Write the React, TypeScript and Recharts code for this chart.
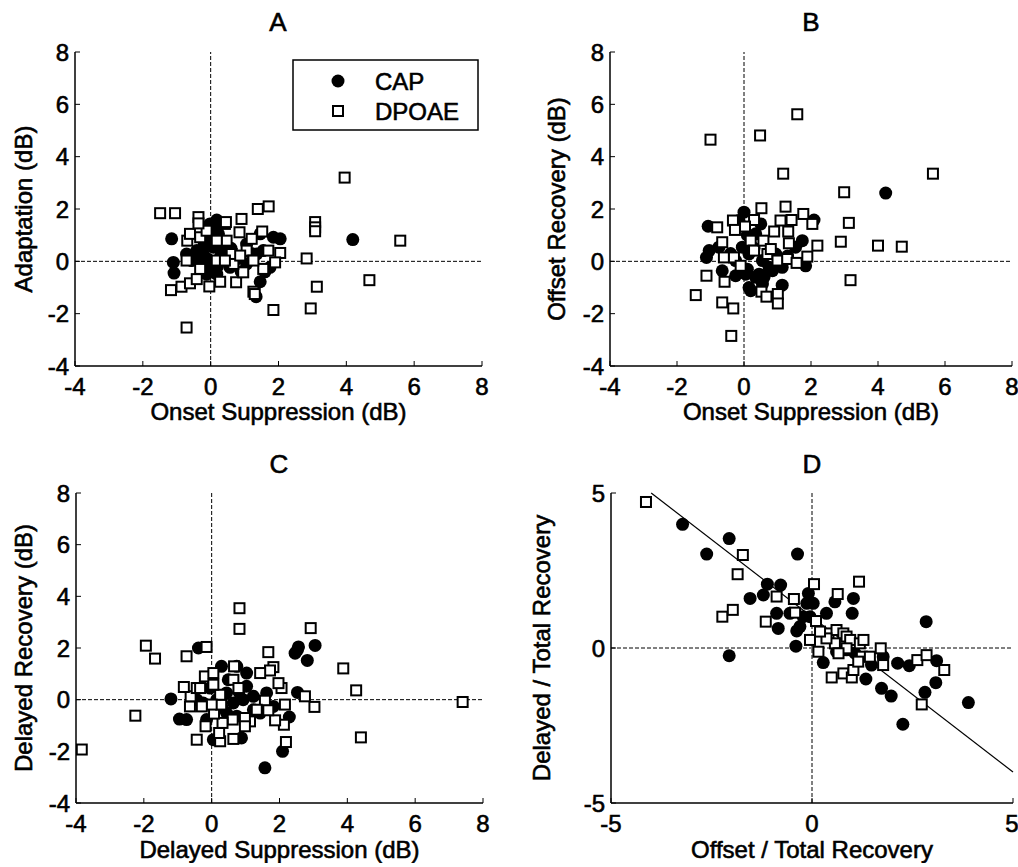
import { ScatterChart, Scatter, XAxis, YAxis, ReferenceLine } from 'recharts';

const FONT = '"Liberation Sans", Arial, Helvetica, sans-serif';

// panel A: onset suppression vs adaptation
const capA: [number, number][] = [
  [4.19, 0.83], [-1.15, 0.86], [-1.1, -0.04], [-1.08, -0.45], [-0.71, 0.28], [0.18, 1.58], [-0.02, 1.43],
  [2.05, 0.86], [1.46, -0.78], [1.34, -1.35], [1.75, -0.23], [1.85, 0.92], [-0.22, 0.28], [-0.02, -0.1],
  [0.08, 0.54], [0.23, 1.05], [0.37, 0.41], [-0.31, 0.03], [-0.12, -0.49], [0.18, -0.49], [0.57, -0.23],
  [0.77, 0.09], [1.06, -0.1], [1.36, 0.28], [1.55, 0.41], [1.46, 1.05], [-0.56, 0.03], [-0.41, 0.41],
  [0.47, 0.03], [1.06, 0.66], [0.03, 0.92], [0.1, 1.3], [0.3, 0.2], [-0.2, 0.6], [0.6, 0.5], [1.2, 0.3],
  [0.9, -0.4], [0.0, -0.3], [1.6, -0.4], [0.2, -0.2], [0.4, 0.7], [-0.1, 0.1]
];
const dpoaeA: [number, number][] = [
  [3.95, 3.2], [-1.49, 1.84], [-1.05, 1.84], [-0.36, 1.69], [0.91, 1.62], [1.39, 2.0], [1.71, 2.1],
  [3.08, 1.5], [3.08, 1.3], [3.08, 1.15], [5.59, 0.79], [2.83, 0.11], [4.68, -0.72], [3.13, -0.97],
  [2.95, -1.8], [1.85, -1.86], [-0.71, -2.53], [-1.17, -1.1], [-0.86, -0.97], [-0.61, -0.84], [-0.41, -0.68],
  [-0.04, -0.96], [0.28, -0.78], [0.75, -0.8], [1.26, -1.16], [1.3, -1.25], [-0.71, 0.03], [-0.69, 0.79],
  [-0.61, 1.05], [-0.31, 0.92], [-0.12, 1.17], [0.42, 1.43], [0.47, 0.79], [0.18, 0.79], [0.85, 1.11],
  [1.21, 0.86], [1.52, 1.14], [1.7, 0.41], [2.05, 0.32], [1.9, -0.04], [1.55, -0.29], [0.96, -0.42],
  [1.06, 0.41], [0.62, 0.28], [0.18, 0.03], [0.67, -0.1], [-0.31, -0.29], [0.87, 0.22], [1.26, 0.03],
  [0.42, 0.03], [-0.36, 1.45], [0.45, 1.5]
];

// panel B: onset suppression vs offset recovery
const capB: [number, number][] = [
  [4.23, 2.61], [-1.07, 1.34], [0.0, 1.88], [2.09, 1.58], [-1.12, 0.15], [-1.04, 0.41], [-0.65, -0.36],
  [1.14, -0.91], [0.15, -1.0], [0.2, -1.12], [0.55, -0.87], [-0.25, -0.55], [0.05, -0.49], [0.45, -0.49],
  [0.85, -0.36], [0.15, 0.28], [0.35, 1.05], [0.5, 1.43], [1.74, 0.79], [1.84, -0.17], [1.54, 0.54],
  [0.55, 0.03], [-0.05, 0.54], [-0.75, 0.54], [-0.25, 0.03], [0.95, 0.28], [1.14, -0.23], [0.35, -0.61],
  [-0.15, 1.56], [0.75, -0.23], [0.1, 1.0], [0.3, 0.5], [-0.4, 0.3], [1.3, 0.2], [0.1, -0.3], [0.6, -0.6]
];
const dpoaeB: [number, number][] = [
  [-1.0, 4.65], [0.48, 4.81], [1.59, 5.62], [1.17, 3.35], [5.64, 3.35], [2.99, 2.64], [3.13, 1.47],
  [2.89, 0.75], [4.0, 0.6], [4.71, 0.56], [3.18, -0.72], [2.19, 0.6], [1.77, 1.81], [2.04, 1.43],
  [1.42, 1.58], [1.24, 2.09], [0.52, 2.03], [1.09, 1.56], [1.32, 1.14], [0.3, 1.58], [-0.33, 1.56],
  [-0.27, 1.2], [-0.8, 1.3], [0.03, 1.33], [0.9, 1.14], [-0.65, 0.73], [-0.6, 0.15], [-0.3, 0.15],
  [0.2, 0.79], [0.3, 0.41], [0.58, 0.79], [0.7, 0.28], [1.0, 0.03], [1.29, 0.09], [1.57, -0.06],
  [1.89, 0.18], [-0.1, -0.17], [-1.12, -0.55], [-0.58, -0.78], [-1.44, -1.29], [-0.65, -1.57],
  [-0.32, -1.8], [-0.38, -2.85], [0.52, -1.16], [0.67, -1.35], [1.01, -1.25], [1.01, -1.61],
  [1.34, 0.69], [0.8, 0.47]
];

// panel C: delayed suppression vs delayed recovery
const capC: [number, number][] = [
  [1.57, -2.64], [2.09, -2.0], [2.53, 1.93], [2.56, 2.04], [2.46, 1.8], [3.05, 2.1], [2.82, 1.52],
  [2.53, 0.28], [2.29, -0.67], [-0.39, 2.0], [-1.2, 0.03], [-0.95, -0.75], [-0.74, -0.77], [0.05, -1.55],
  [0.88, -1.48], [0.29, 1.29], [0.74, 1.29], [0.44, 0.26], [0.64, -0.13], [0.93, 0.0], [1.23, 0.13],
  [1.03, 0.52], [0.44, -0.52], [0.15, 0.0], [-0.25, -0.13], [-0.15, -0.77], [1.23, -0.39], [1.43, -0.52],
  [0.74, -0.64], [1.03, 1.03], [1.62, 0.26], [1.82, -0.26], [-0.44, 0.0], [0.49, 0.77], [-0.05, 0.45],
  [0.3, -0.3], [0.8, 0.3]
];
const dpoaeC: [number, number][] = [
  [-3.83, -1.93], [-2.25, -0.62], [-1.94, 2.09], [-1.67, 1.59], [-0.74, 1.68], [-0.15, 2.04], [0.82, 3.54],
  [0.82, 2.74], [2.92, 2.77], [1.67, 1.84], [1.82, 1.26], [1.72, 1.13], [3.88, 1.21], [4.26, 0.36],
  [7.4, -0.09], [4.4, -1.46], [3.03, -0.28], [2.75, 0.13], [2.16, -0.19], [2.19, -1.64], [2.13, -0.97],
  [1.87, -0.8], [2.06, 0.45], [1.97, 0.64], [1.43, 1.03], [1.57, -0.04], [1.33, -0.39], [1.67, -0.41],
  [1.13, -0.84], [0.98, -0.71], [0.98, -1.03], [0.66, 1.29], [0.64, 0.77], [0.79, 0.45], [0.62, -0.77],
  [0.64, -1.52], [0.25, -1.61], [0.22, -1.29], [0.32, -0.9], [0.07, -0.54], [0.28, -0.19], [0.25, 0.19],
  [0.0, -0.19], [-0.18, -1.03], [-0.44, -1.55], [-0.29, -0.26], [-0.64, -0.26], [-0.62, 0.13],
  [-0.82, 0.49], [-0.44, 0.45], [-0.2, 0.9], [0.05, 0.58], [0.05, 1.03], [-0.34, 0.45]
];

// panel D: offset / total recovery vs delayed / total recovery
const capD: [number, number][] = [
  [-3.22, 3.99], [-2.62, 3.03], [-2.06, 3.53], [-0.36, 3.03], [-1.11, 2.06], [-0.78, 2.03], [-1.54, 1.6],
  [-1.21, 1.71], [-0.88, 1.12], [-0.84, 0.63], [-0.38, 0.55], [-0.4, 0.06], [-2.06, -0.25], [-0.09, 1.76],
  [-0.13, 1.44], [0.03, 1.44], [-0.22, 1.01], [-0.05, 1.01], [0.36, 1.12], [0.57, 1.49], [1.03, 1.6],
  [1.0, 1.12], [2.84, 0.85], [0.28, -0.47], [0.61, -0.12], [1.34, -1.0], [1.73, -1.3], [1.97, -1.55],
  [2.26, -2.46], [2.81, -1.43], [3.08, -1.12], [3.1, -0.41], [3.89, -1.76], [2.13, -0.49], [2.42, -0.57],
  [1.48, -0.55], [1.77, -0.28], [1.07, -0.17], [0.86, -0.06], [-0.55, 1.12], [-0.3, 0.69]
];
const dpoaeD: [number, number][] = [
  [-4.13, 4.71], [-1.72, 3.0], [-1.85, 2.38], [-2.23, 1.01], [-1.97, 1.23], [-1.15, 0.85], [-0.88, 1.66],
  [-0.45, 1.58], [0.05, 2.06], [1.17, 2.14], [0.64, 1.74], [-0.42, 1.14], [0.1, 0.87], [-0.05, 0.26],
  [0.16, -0.12], [0.49, -0.95], [0.78, -0.82], [0.99, -0.95], [1.03, -0.71], [0.41, 0.47], [0.61, 0.58],
  [0.78, 0.47], [0.86, 0.37], [0.57, 0.15], [0.95, 0.26], [1.19, 0.15], [1.28, 0.26], [1.24, -0.28],
  [1.44, -0.28], [1.71, -0.01], [1.77, -0.55], [1.15, -0.44], [2.62, -0.39], [2.85, -0.23], [3.29, -0.71],
  [2.73, -1.82], [0.36, 0.31], [0.86, -0.01], [0.2, 0.53], [0.66, -0.17]
];

// regression line end points
const fitD = [{ x: -4, y: 5 }, { x: 5, y: -4 }];

const ticksDb = [-4, -2, 0, 2, 4, 6, 8];
const ticksRatio = [-5, 0, 5];

const toPts = (arr: [number, number][]) => arr.map(([x, y]) => ({ x, y }));

const Dot = (p: any) => <circle cx={p.cx} cy={p.cy} r={6.5} fill="#000" />;
const Box = (p: any) => (
  <rect x={p.cx - 5} y={p.cy - 5} width={10} height={10} fill="#fff" stroke="#000" strokeWidth={2} />
);

type PanelProps = {
  left: number;
  top: number;
  width: number;
  plot: { l: number; t: number; r: number; b: number };
  domain: [number, number];
  ticks: number[];
  cap: [number, number][];
  dpoae: [number, number][];
  xLabel: string;
  yLabel: string;
  yLabelOffset: number;
  xLabelOffset: number;
  fit?: { x: number; y: number }[];
};

// scanned print looks heavy, so thicken glyphs a little with a stroke
const textStyle = { fill: '#000', stroke: '#000', strokeWidth: 0.6, fontSize: 24, fontFamily: FONT };
const tickStyle = { ...textStyle };
const axisLine = { stroke: '#000', strokeWidth: 1.5 };

function Panel(props: PanelProps) {
  const { left, top, width, plot, domain, ticks } = props;
  const xAxisH = 60;
  const height = plot.b - top + xAxisH;
  return (
    <div style={{ position: 'absolute', left, top, width, height }}>
      <ScatterChart
        width={width}
        height={height}
        margin={{ top: plot.t - top, right: left + width - plot.r, bottom: 0, left: 0 }}>
        <XAxis
          type='number'
          dataKey='x'
          domain={domain}
          ticks={ticks}
          allowDataOverflow
          height={xAxisH}
          axisLine={axisLine}
          tickLine={{ stroke: '#000', strokeWidth: 1 }}
          tickSize={-5}
          tickMargin={17}
          tick={tickStyle}
          label={{
            value: props.xLabel,
            position: 'insideBottom',
            offset: props.xLabelOffset,
            style: textStyle
          }}
        />
        <XAxis
          xAxisId='top'
          orientation='top'
          type='number'
          domain={domain}
          ticks={ticks}
          allowDataOverflow
          height={0}
          axisLine={axisLine}
          tickLine={{ stroke: '#000', strokeWidth: 1 }}
          tickSize={-5}
          tick={false}
        />
        <YAxis
          type='number'
          dataKey='y'
          domain={domain}
          ticks={ticks}
          allowDataOverflow
          width={plot.l - left}
          axisLine={axisLine}
          tickLine={{ stroke: '#000', strokeWidth: 1 }}
          tickSize={-5}
          tickMargin={11}
          tick={tickStyle}
          label={{
            value: props.yLabel,
            angle: -90,
            position: 'insideLeft',
            offset: props.yLabelOffset,
            style: { ...textStyle, textAnchor: 'middle' }
          }}
        />
        <YAxis
          yAxisId='right'
          orientation='right'
          type='number'
          domain={domain}
          ticks={ticks}
          allowDataOverflow
          width={0}
          axisLine={axisLine}
          tickLine={{ stroke: '#000', strokeWidth: 1 }}
          tickSize={-5}
          tick={false}
        />
        <ReferenceLine x={0} stroke='#000' strokeWidth={1} strokeDasharray='4 2' />
        <ReferenceLine y={0} stroke='#000' strokeWidth={1} strokeDasharray='4 2' />
        {props.fit && <ReferenceLine segment={props.fit} stroke='#000' strokeWidth={1.2} />}
        <Scatter name='CAP' data={toPts(props.cap)} shape={Dot} isAnimationActive={false} />
        <Scatter name='DPOAE' data={toPts(props.dpoae)} shape={Box} isAnimationActive={false} />
      </ScatterChart>
    </div>
  );
}

export default function App() {
  return (
    <div
      style={{
        position: 'absolute',
        left: 0,
        top: 0,
        width: 1018,
        height: 867,
        background: '#fff',
        fontFamily: FONT
      }}>
      <Panel
        left={0}
        top={0}
        width={500}
        plot={{ l: 75, t: 52, r: 482, b: 366 }}
        domain={[-4, 8]}
        ticks={ticksDb}
        cap={capA}
        dpoae={dpoaeA}
        xLabel='Onset Suppression (dB)'
        yLabel='Adaptation (dB)'
        yLabelOffset={23}
        xLabelOffset={6}
      />
      <Panel
        left={515}
        top={0}
        width={503}
        plot={{ l: 610, t: 52, r: 1012, b: 366 }}
        domain={[-4, 8]}
        ticks={ticksDb}
        cap={capB}
        dpoae={dpoaeB}
        xLabel='Onset Suppression (dB)'
        yLabel='Offset Recovery (dB)'
        yLabelOffset={41}
        xLabelOffset={6}
      />
      <Panel
        left={0}
        top={440}
        width={500}
        plot={{ l: 76, t: 493, r: 483, b: 803 }}
        domain={[-4, 8]}
        ticks={ticksDb}
        cap={capC}
        dpoae={dpoaeC}
        xLabel='Delayed Suppression (dB)'
        yLabel='Delayed Recovery (dB)'
        yLabelOffset={23}
        xLabelOffset={5}
      />
      <Panel
        left={515}
        top={440}
        width={503}
        plot={{ l: 611, t: 493, r: 1013, b: 803 }}
        domain={[-5, 5]}
        ticks={ticksRatio}
        cap={capD}
        dpoae={dpoaeD}
        xLabel='Offset / Total Recovery'
        yLabel='Delayed / Total Recovery'
        yLabelOffset={26}
        xLabelOffset={5}
        fit={fitD}
      />
      <svg
        width={1018}
        height={867}
        style={{ position: 'absolute', left: 0, top: 0, pointerEvents: 'none' }}
        fontFamily={FONT}>
        <g fill='#000' stroke='#000' strokeWidth={0.6}>
          <text x={278} y={31} fontSize={26} textAnchor='middle'>A</text>
          <text x={811} y={31} fontSize={26} textAnchor='middle'>B</text>
          <text x={279} y={473} fontSize={26} textAnchor='middle'>C</text>
          <text x={812} y={473} fontSize={26} textAnchor='middle'>D</text>
        </g>
        <rect x={293} y={60} width={185} height={70} fill='#fff' stroke='#000' strokeWidth={1.5} />
        <circle cx={338} cy={81} r={6.5} fill='#000' />
        <rect x={333} y={106} width={10} height={10} fill='#fff' stroke='#000' strokeWidth={2} />
        <g fill='#000' stroke='#000' strokeWidth={0.6} fontSize={24}>
          <text x={375} y={90}>CAP</text>
          <text x={375} y={120}>DPOAE</text>
        </g>
      </svg>
    </div>
  );
}
